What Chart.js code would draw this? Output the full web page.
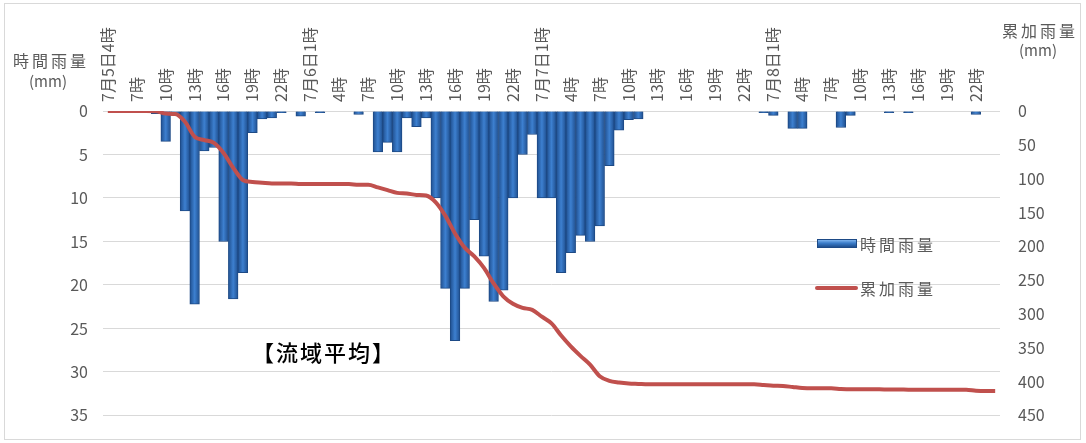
<!DOCTYPE html>
<html lang="ja">
<head>
<meta charset="utf-8">
<title>時間雨量・累加雨量（流域平均）</title>
<script src="https://cdn.jsdelivr.net/npm/chart.js@4.4.1/dist/chart.umd.min.js"></script>
<style>
  html, body { margin: 0; padding: 0; background: #fff; }
  body { width: 1086px; height: 443px; position: relative; overflow: hidden;
         font-family: "Noto Sans CJK JP", "Noto Sans", sans-serif; }
  #frame { position: absolute; left: 4px; top: 3px; width: 1077px; height: 437px;
           border: 1px solid #d9d9d9; box-sizing: border-box; }
  #chart { position: absolute; left: 0; top: 0; }
  .txt { position: absolute; color: #595959; white-space: nowrap; line-height: 24px; height: 24px; }
  .title { font-size: 16px; letter-spacing: 3px; text-align: center; }
  .unit { font-size: 15px; text-align: center; }
  .legend { font-size: 16px; letter-spacing: 3px; }
  .swatch-bar { position: absolute; left: 817px; top: 239px; width: 40px; height: 9px;
                box-sizing: border-box; border: 1px solid #1d4a86;
                background: linear-gradient(to bottom, #7fb4ee, #3a7cc9 45%, #1f4f8f); }
  .swatch-line { position: absolute; left: 815px; top: 286px; width: 43px; height: 4px;
                 border-radius: 2px; background: #c0504d; }
  #note { position: absolute; left: 252px; top: 337px; height: 28px; line-height: 28px;
          font-size: 22px; font-weight: 500; letter-spacing: 2px; color: #000; white-space: nowrap; }
</style>
</head>
<body>
<div id="frame"></div>
<canvas id="chart" width="1086" height="443"></canvas>

<div class="txt title" style="left:0; width:102px; top:48px;">時間雨量</div>
<div class="txt unit" style="left:0; width:96px; top:69px;">(mm)</div>
<div class="txt title" style="left:990px; width:100px; top:18px;">累加雨量</div>
<div class="txt unit" style="left:990px; width:96px; top:38px;">(mm)</div>

<div class="swatch-bar"></div>
<div class="txt legend" style="left:860px; top:232px;">時間雨量</div>
<div class="swatch-line"></div>
<div class="txt legend" style="left:860px; top:276px;">累加雨量</div>

<div id="note">【流域平均】</div>

<script>
// 7月5日4時 ～ 7月8日24時 (1時間ごと)
const days = ['7月5日', '7月6日', '7月7日', '7月8日'];
const hours = [];
days.forEach((d, i) => {
  for (let h = (i === 0 ? 4 : 1); h <= 24; h++) hours.push(d + h + '時');
});

// 3時間ごとの目盛ラベル
const tickLabels = [
  '7月5日4時', '7時', '10時', '13時', '16時', '19時', '22時',
  '7月6日1時', '4時', '7時', '10時', '13時', '16時', '19時', '22時',
  '7月7日1時', '4時', '7時', '10時', '13時', '16時', '19時', '22時',
  '7月8日1時', '4時', '7時', '10時', '13時', '16時', '19時', '22時'
];

// 時間雨量 (mm)
const hourlyRain = [
  0, 0, 0, 0, 0, 0.3, 3.5, 0.5, 11.5, 22.2,
  4.6, 4.2, 15.0, 21.6, 18.6, 2.5, 0.9, 0.8, 0.2, 0,
  0.6, 0, 0.2, 0, 0, 0, 0.4, 0, 4.7, 3.6,
  4.7, 0.8, 1.8, 0.8, 10.0, 20.4, 26.4, 20.4, 12.5, 16.7,
  21.9, 20.6, 10.0, 5.0, 2.7, 10.0, 10.0, 18.6, 16.3, 14.3,
  15.0, 13.2, 6.3, 2.2, 1.0, 0.9, 0, 0, 0, 0,
  0, 0, 0, 0, 0, 0, 0, 0, 0.2, 0.5,
  0, 2.0, 2.0, 0, 0, 0, 1.9, 0.5, 0, 0,
  0, 0.2, 0, 0.2, 0, 0, 0, 0, 0, 0,
  0.4, 0, 0
];

// 累加雨量 (mm)
const totalRain = [
  0, 0, 0, 0, 0, 0.3, 3.8, 4.5, 16, 38,
  43, 47, 62, 84, 102, 105, 106, 107, 107, 107,
  108, 108, 108, 108, 108, 108, 109, 109, 113, 117,
  121, 122, 124, 125, 135, 155, 181, 202, 215, 232,
  255, 274, 285, 291, 294, 304, 314, 332, 348, 362,
  375, 392, 399, 401.5, 403, 403.5, 404, 404, 404, 404,
  404, 404, 404, 404, 404, 404, 404, 404, 405, 406,
  406.5, 408, 409.5, 410, 410, 410, 411, 411.5, 411.5, 411.5,
  411.5, 411.7, 411.7, 412, 412, 412, 412, 412, 412, 412,
  413.5, 414, 414
];

Chart.defaults.font.family = '"Noto Sans CJK JP", "Noto Sans", sans-serif';
Chart.defaults.color = '#595959';

// 棒の左右を暗く、中央を明るくする (Excel風の立体表現)
const barFill = (ctx) => {
  const chart = ctx.chart;
  const xScale = chart.scales.x;
  if (ctx.type !== 'data' || !xScale || !chart.chartArea) return '#2f6db5';
  const w = xScale.width / hours.length;
  const cx = xScale.getPixelForValue(ctx.dataIndex);
  const g = chart.ctx.createLinearGradient(cx - w / 2, 0, cx + w / 2, 0);
  g.addColorStop(0, '#1f4f8f');
  g.addColorStop(0.5, '#3d80d0');
  g.addColorStop(1, '#1f4f8f');
  return g;
};

new Chart(document.getElementById('chart'), {
  data: {
    labels: hours,
    datasets: [{
      type: 'line',
      label: '累加雨量',
      data: totalRain,
      yAxisID: 'y2',
      borderColor: '#c0504d',
      borderWidth: 4,
      pointRadius: 0,
      cubicInterpolationMode: 'monotone',
      order: 0
    }, {
      type: 'bar',
      label: '時間雨量',
      data: hourlyRain,
      yAxisID: 'y',
      backgroundColor: barFill,
      borderColor: '#1d4a86',
      borderWidth: 1,
      categoryPercentage: 1.0,
      barPercentage: 1.0,
      order: 1
    }]
  },
  options: {
    responsive: false,
    animation: false,
    layout: { padding: { top: 0, left: 0, right: 0, bottom: 25 } },
    plugins: {
      legend: { display: false },
      tooltip: { enabled: false }
    },
    scales: {
      x: {
        position: 'top',
        offset: true,
        grid: { display: false, drawTicks: false },
        border: { display: false },
        ticks: {
          autoSkip: false,
          maxRotation: 90,
          minRotation: 90,
          padding: 9,
          // 上側の回転ラベルは左にずれるので戻す
          labelOffset: 19,
          font: { size: 16 },
          callback: (value, index) => index % 3 === 0 ? tickLabels[index / 3] : ''
        },
        afterFit: (scale) => { scale.height = 111; }
      },
      y: {
        position: 'left',
        reverse: true,
        min: 0,
        max: 35,
        ticks: { stepSize: 5, padding: 15, font: { size: 16 } },
        grid: { color: '#d9d9d9', drawTicks: false },
        border: { display: false },
        afterFit: (scale) => { scale.width = 103; }
      },
      y2: {
        position: 'right',
        reverse: true,
        min: 0,
        max: 450,
        ticks: { stepSize: 50, padding: 18, font: { size: 16 } },
        grid: { display: false, drawTicks: false },
        border: { display: false },
        afterFit: (scale) => { scale.width = 86; }
      }
    }
  }
});
</script>
</body>
</html>
